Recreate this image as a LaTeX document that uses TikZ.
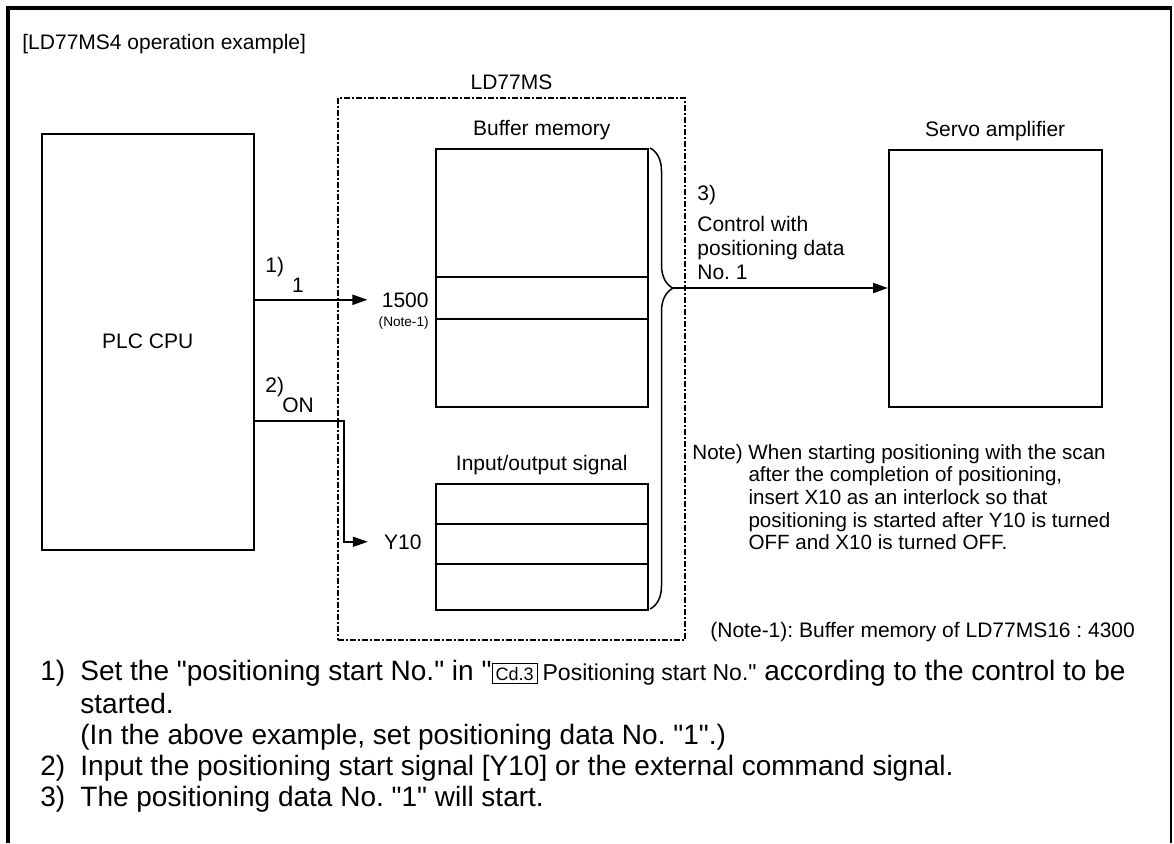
\documentclass[tikz,border=0pt]{standalone}
\usepackage{fontspec}
\setmainfont{Liberation Sans}[Ligatures=TeXOff]
\usepackage{tikz}
\usetikzlibrary{arrows.meta, positioning, decorations.pathreplacing}

\frenchspacing
\setlength{\fboxsep}{1.5pt}
\setlength{\fboxrule}{0.6pt}
\newcommand{\cdref}[1]{\fbox{\fontsize{9}{10}\selectfont #1}}

\begin{document}
\begin{tikzpicture}[
    x=0.5pt, y=-0.5pt,
    font=\fontsize{10.5}{12}\selectfont,
    blk/.style={draw, line width=0.75pt, anchor=north west, minimum width=106pt, inner sep=0pt},
    unit/.style={draw, line width=1pt, dash pattern=on 3pt off 1pt on 1pt off 1pt,
                 anchor=north west, inner sep=0pt},
    lbl/.style={inner sep=0pt},
    arr/.style={-{Triangle[length=7.5pt, width=5pt]}, line width=1pt},
    wire/.style={line width=0.75pt},
    bigtxt/.style={anchor=base west, inner sep=0pt, font=\fontsize{14}{16}\selectfont},
]
\useasboundingbox (0,0) rectangle (1174,843);

% frame, open at the bottom
\draw[line width=2pt] (8,843) -- (8,8) -- (1172,8);
\draw[line width=1pt] (1171,8) -- (1171,843);

\node[lbl, anchor=base west] (title) at (22,49) {[LD77MS4 operation example]};

% blocks
\node[blk, minimum height=208pt] (plc) at (41,133) {PLC CPU};
\node[unit, minimum width=173.5pt, minimum height=271pt] (ld) at (337,97) {};
\node[blk, minimum height=129pt] (buf) at (435,148) {};
\node[blk, minimum height=63pt] (io) at (435,483) {};
\node[blk, minimum width=106.5pt, minimum height=128.5pt] (servo) at (888,149) {};

\node[lbl, above=3.5pt of ld] {LD77MS};
\node[lbl, above=3.8pt of buf] {Buffer memory};
\node[lbl, above=3.8pt of io] {Input/output signal};
\node[lbl, above=3.8pt of servo] {Servo amplifier};

% memory rows
\coordinate (b1) at (0,277);
\coordinate (b2) at (0,319);
\coordinate (s1) at (0,524);
\coordinate (s2) at (0,564);
\draw[wire] (buf.west |- b1) -- (buf.east |- b1);
\draw[wire] (buf.west |- b2) -- (buf.east |- b2);
\draw[wire] (io.west |- s1) -- (io.east |- s1);
\draw[wire] (io.west |- s2) -- (io.east |- s2);

% start number
\node[lbl, anchor=base east] (addr) at (429,307) {1500};
\node[lbl, anchor=base east, font=\fontsize{6.8}{8}\selectfont] (noteref) at (429,326) {(Note-1)};
\node[lbl, anchor=base west] (step1) at (265,272) {1)};
\node[lbl, anchor=base] (val1) at (298,292) {1};
\draw[arr] (plc.east |- addr) -- ([xshift=-7pt]addr.west);

% start signal
\node[lbl, anchor=base east] (y10) at (422,549) {Y10};
\node[lbl, anchor=base west] (step2) at (265,392) {2)};
\node[lbl, anchor=base west] (on) at (282,412) {ON};
\coordinate (knee) at (344,421);
\draw[wire, -{Triangle[length=7.5pt, width=5pt]}] (plc.east |- knee) -- (knee) |- ([xshift=-8pt]y10.west);

% control to the servo
\coordinate (btop) at (650,148);
\coordinate (bbot) at (650,609);
\coordinate (tip) at (673,288);
\draw[wire, decorate, decoration={brace, amplitude=11.5pt, aspect=0.304}] (btop) -- (bbot);
\draw[arr] (tip) -- (servo.west |- tip);

\node[lbl, anchor=base west] (step3) at (697,200) {3)};
\node[lbl, anchor=north west, align=left] (ctrl) at (697,216) {Control with\\positioning data\\No. 1};

% notes
\node[lbl, anchor=base west] (note) at (692,459) {\fontsize{10.3}{11.35}\selectfont
  \begin{tabular}[t]{@{}l@{ }l@{}}
  Note) & When starting positioning with the scan\\
        & after the completion of positioning,\\
        & insert X10 as an interlock so that\\
        & positioning is started after Y10 is turned\\
        & OFF and X10 is turned OFF.
  \end{tabular}};
\node[lbl, anchor=base west] (note1) at (710,637) {(Note-1): Buffer memory of LD77MS16 : 4300};

% explanation
\node[bigtxt] (i1) at (40,680) {1)};
\node[bigtxt] (t1) at (80,680) {Set the "positioning start No." in "\cdref{Cd.3}\,{\fontsize{11.5}{12}\selectfont Positioning start No."} according to the control to be};
\node[bigtxt] (t1b) at (80,713) {started.};
\node[bigtxt] (t1c) at (80,744) {(In the above example, set positioning data No. "1".)};
\node[bigtxt] (i2) at (40,775) {2)};
\node[bigtxt] (t2) at (80,775) {Input the positioning start signal [Y10] or the external command signal.};
\node[bigtxt] (i3) at (40,806) {3)};
\node[bigtxt] (t3) at (80,806) {The positioning data No. "1" will start.};

\end{tikzpicture}
\end{document}
